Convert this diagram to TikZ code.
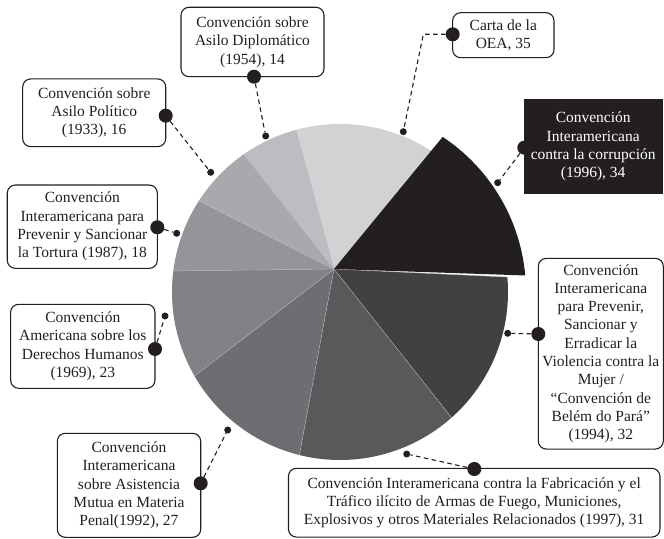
\documentclass[tikz,border=0pt]{standalone}
\usepackage{fontspec}
\setmainfont{Liberation Serif}
\usetikzlibrary{calc}
\definecolor{c35}{HTML}{D1D2D4}
\definecolor{c34}{HTML}{231F20}
\definecolor{c32}{HTML}{414042}
\definecolor{c31}{HTML}{58595B}
\definecolor{c27}{HTML}{6D6E71}
\definecolor{c23}{HTML}{808285}
\definecolor{c18}{HTML}{939598}
\definecolor{c16}{HTML}{A7A9AC}
\definecolor{c14}{HTML}{BCBDC0}
\newcommand\pieslice[4]{\fill[#1] (A) -- ($(C)+(#2:#4)$) arc[start angle=#2,end angle=#3,radius=#4] -- cycle;}
\newcommand\pieedge[1]{\draw[white!72!black, line width=0.35bp] (A) -- ($(C)+(#1:168)$);}
\begin{document}
\begin{tikzpicture}[x=1bp,y=-1bp,
  box/.style={draw=c34, line width=1.1bp, rounded corners=8bp, fill=white, align=center, inner sep=0pt, font=\fontsize{15.5bp}{18.3bp}\selectfont, text=c34},
  blackbox/.style={box, fill=c34, draw=c34, text=white, sharp corners},
  bigdot/.style={circle, fill=c34, inner sep=0pt, minimum size=14bp},
  smalldot/.style={circle, fill=c34, inner sep=0pt, minimum size=7bp},
  conn/.style={line width=1.1bp, dash pattern=on 4.5bp off 3.5bp, draw=c34}]
\fill[white] (0,0) rectangle (664,539);
\useasboundingbox (0,0) rectangle (664,539);
\coordinate (A) at (334,269);
\coordinate (C) at (340,292);
% pie
\pieslice{c35}{-105.2}{-56.5}{168}
\pieslice{c32}{-5.1}{48.4}{168}
\pieslice{c31}{48.4}{104}{168}
\pieslice{c27}{104}{150}{168}
\pieslice{c23}{150}{187.2}{168}
\pieslice{c18}{187.2}{212.8}{168}
\pieslice{c16}{212.8}{235.1}{168}
\pieslice{c14}{235.1}{254.8}{168}
\pieedge{48.4}
\pieedge{104}
\pieedge{150}
\pieedge{187.2}
\pieedge{212.8}
\pieedge{235.1}
\pieedge{254.8}
\pieedge{-5.1}
\fill[c34] (A) -- ($(C)+(-56.5:186)$) arc[start angle=-56.5,end angle=-5.1,radius=186] -- cycle;

% boxes
\node[box, minimum width=143bp, minimum height=69.4bp] (n14) at (252.5,42) {Convención sobre\\Asilo Diplomático\\(1954), 14};
\node[box, minimum width=143bp, minimum height=67.7bp] (n16) at (94.2,112.8) {Convención sobre\\Asilo Político\\(1933), 16};
\node[box, minimum width=101.3bp, minimum height=45bp] (n35) at (503.3,35.2) {Carta de la\\OEA, 35};
\node[blackbox, minimum width=137.7bp, minimum height=93.3bp] (n34) at (593.2,146.7) {Convención\\Interamericana\\contra la corrupción\\(1996), 34};
\node[box, minimum width=125bp, minimum height=190.7bp] (n32) at (600.8,353.7) {Convención\\Interamericana\\para Prevenir,\\Sancionar y\\Erradicar la\\Violencia contra la\\Mujer /\\“Convención de\\Belém do Pará”\\(1994), 32};
\node[box, minimum width=371.5bp, minimum height=68.7bp] (n31) at (474.2,502.7) {Convención Interamericana contra la Fabricación y el\\Tráfico ilícito de Armas de Fuego, Municiones,\\Explosivos y otros Materiales Relacionados (1997), 31};
\node[box, minimum width=143.4bp, minimum height=104bp] (n27) at (129,485.3) {Convención\\Interamericana\\sobre Asistencia\\Mutua en Materia\\Penal(1992), 27};
\node[box, minimum width=144.3bp, minimum height=84bp] (n23) at (82.8,346.3) {Convención\\Americana sobre los\\Derechos Humanos\\(1969), 23};
\node[box, minimum width=150bp, minimum height=83.3bp] (n18) at (82.3,226.7) {Convención\\Interamericana para\\Prevenir y Sancionar\\la Tortura (1987), 18};

% dots
\node[bigdot] (b14) at (254,76.7) {};
\node[smalldot] (s14) at (265.7,136) {};
\node[bigdot] (b16) at (165.7,115.7) {};
\node[smalldot] (s16) at (210.7,172.3) {};
\node[bigdot] (b35) at (452.7,34.3) {};
\coordinate (k35) at (423.3,34.3);
\node[smalldot] (s35) at (403.3,131.7) {};
\node[bigdot] (b34) at (524.3,147.7) {};
\node[smalldot] (s34) at (497.7,182.7) {};
\node[bigdot] (b32) at (538.3,334) {};
\node[smalldot] (s32) at (507.7,333.3) {};
\node[bigdot] (b31) at (474.3,469) {};
\node[smalldot] (s31) at (406.7,454) {};
\node[bigdot] (b27) at (200.7,483.3) {};
\node[smalldot] (s27) at (227.7,430) {};
\node[bigdot] (b23) at (155,349) {};
\node[smalldot] (s23) at (165,316) {};
\node[bigdot] (b18) at (157.3,227.3) {};
\node[smalldot] (s18) at (176.7,233.3) {};

% connectors
\draw[conn] (b14) -- (s14);
\draw[conn] (b16) -- (s16);
\draw[conn] (b35) -- (k35) -- (s35);
\draw[conn] (b34) -- (s34);
\draw[conn] (b32) -- (s32);
\draw[conn] (b31) -- (s31);
\draw[conn] (b27) -- (s27);
\draw[conn] (b23) -- (s23);
\draw[conn] (b18) -- (s18);
\end{tikzpicture}
\end{document}
